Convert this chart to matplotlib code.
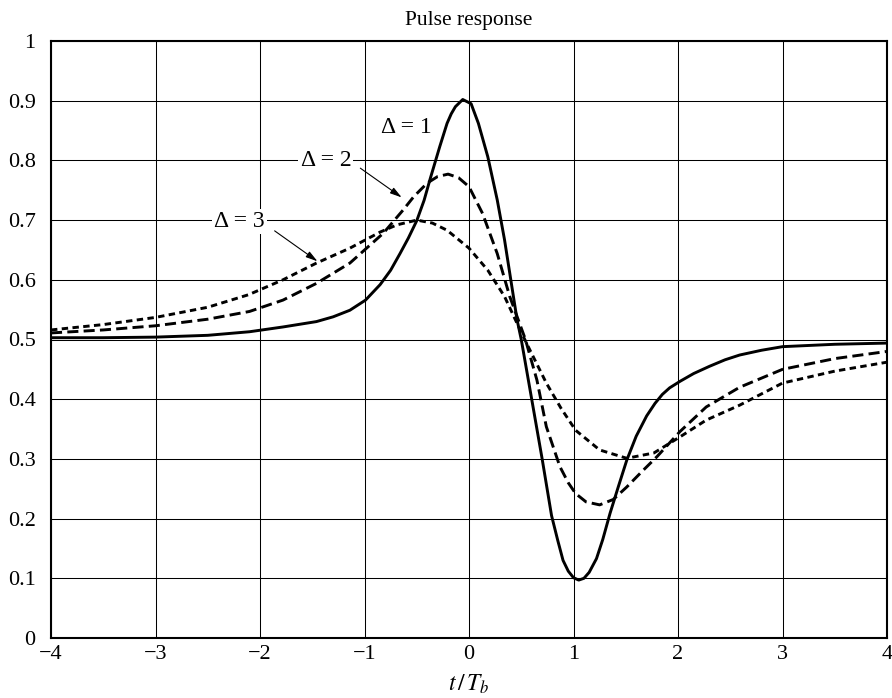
import matplotlib
matplotlib.use("Agg")
import matplotlib.pyplot as plt

plt.rcParams['font.family'] = ['Liberation Serif', 'DejaVu Serif']
plt.rcParams['mathtext.fontset'] = 'stix'

# Delta = 1 (solid)
x1 = [-4.0, -3.5, -3.0, -2.5, -2.1, -1.78, -1.46, -1.30, -1.14, -0.99, -0.85, -0.75, -0.66, -0.58, -0.50, -0.43,
      -0.37, -0.28, -0.21, -0.17, -0.13, -0.06, 0.02, 0.09, 0.18, 0.27, 0.34, 0.40, 0.46, 0.50, 0.60, 0.70,
      0.79, 0.85, 0.90, 0.95, 1.0, 1.05, 1.10, 1.15, 1.22, 1.28, 1.35, 1.43, 1.51, 1.60, 1.70, 1.78, 1.85,
      1.92, 2.02, 2.15, 2.3, 2.45, 2.59, 2.8, 3.0, 3.5, 4.0]
y1 = [0.503, 0.503, 0.504, 0.507, 0.513, 0.521, 0.530, 0.538, 0.549, 0.566, 0.592, 0.616, 0.644, 0.670, 0.699, 0.733,
      0.770, 0.823, 0.862, 0.878, 0.890, 0.902, 0.895, 0.862, 0.806, 0.734, 0.667, 0.600, 0.533, 0.500, 0.400, 0.300,
      0.205, 0.163, 0.130, 0.112, 0.101, 0.097, 0.100, 0.110, 0.133, 0.165, 0.209, 0.254, 0.298, 0.338, 0.372, 0.393, 0.408,
      0.419, 0.430, 0.443, 0.455, 0.466, 0.474, 0.482, 0.488, 0.492, 0.494]

# Delta = 2 (long dash)
x2 = [-4.0, -3.5, -3.0, -2.5, -2.1, -1.78, -1.46, -1.14, -0.98, -0.82, -0.63, -0.53, -0.40, -0.30,
      -0.20, -0.10, 0.0, 0.13, 0.27, 0.39, 0.54, 0.65, 0.74, 0.87, 0.95, 1.02, 1.12, 1.25, 1.38, 1.51,
      1.65, 1.80, 2.02, 2.27, 2.59, 3.0, 3.5, 4.0]
y2 = [0.511, 0.516, 0.523, 0.534, 0.547, 0.566, 0.594, 0.628, 0.653, 0.678, 0.717, 0.739, 0.762, 0.773,
      0.777, 0.771, 0.756, 0.711, 0.644, 0.572, 0.500, 0.432, 0.354, 0.287, 0.260, 0.242, 0.228, 0.223, 0.232, 0.253,
      0.278, 0.304, 0.346, 0.387, 0.420, 0.450, 0.468, 0.480]

# Delta = 3 (short dash)
x3 = [-4.0, -3.5, -3.0, -2.5, -2.11, -1.78, -1.46, -1.14, -0.85, -0.69, -0.50, -0.35, -0.21, 0.0,
      0.18, 0.34, 0.46, 0.55, 0.74, 0.88, 1.02, 1.25, 1.51, 1.77, 2.02, 2.27, 2.59, 3.0, 3.5, 4.0]
y3 = [0.516, 0.525, 0.537, 0.554, 0.575, 0.600, 0.628, 0.653, 0.680, 0.692, 0.700, 0.695, 0.683, 0.653,
      0.616, 0.572, 0.527, 0.494, 0.427, 0.385, 0.348, 0.315, 0.301, 0.310, 0.337, 0.365, 0.390, 0.427, 0.447, 0.462]

xticks = [-4, -3, -2, -1, 0, 1, 2, 3, 4]
yticks = [0, 0.1, 0.2, 0.3, 0.4, 0.5, 0.6, 0.7, 0.8, 0.9, 1]
yticklabels = ['0', '0.1', '0.2', '0.3', '0.4', '0.5', '0.6', '0.7', '0.8', '0.9', '1']

fig = plt.figure(figsize=(8.92, 6.98), dpi=100)
ax = fig.add_axes([51/892, 1-638/698, 836/892, 597/698])

lw = 2.1
ax.plot(x1, y1, color='black', lw=lw, solid_joinstyle='round', zorder=3)
ax.plot(x2, y2, color='black', lw=lw, dashes=(3.8, 1.8), zorder=3)
ax.plot(x3, y3, color='black', lw=lw, dashes=(2.2, 1.5), zorder=3)

ax.set_xlim(-4, 4)
ax.set_ylim(0, 1)
ax.set_xticks(xticks)
ax.set_yticks(yticks)
ax.set_yticklabels(yticklabels)
ax.grid(True, color='black', lw=0.75)
ax.set_axisbelow(True)
ax.tick_params(length=0, labelsize=16)
ax.tick_params(axis='y', pad=11)
ax.tick_params(axis='x', pad=5)
for s in ax.spines.values():
    s.set_linewidth(1.5)

ax.set_title('Pulse response', fontsize=15.5, pad=11.5)
ax.set_xlabel(r'$t\,/\,T_b$', fontsize=17, labelpad=6)

bb = dict(facecolor='white', edgecolor='none', pad=1.5)
ax.text(-0.60, 0.855, '\u0394 = 1', fontsize=17, ha='center', va='center', zorder=4)
ax.text(-1.37, 0.80, '\u0394 = 2', fontsize=17, ha='center', va='center', bbox=bb, zorder=4)
ax.text(-2.20, 0.698, '\u0394 = 3', fontsize=17, ha='center', va='center', bbox=bb, zorder=4)

ap = dict(arrowstyle='-|>,head_length=0.7,head_width=0.2', color='black', lw=0.8, shrinkA=0, shrinkB=0)
ax.annotate('', xy=(-0.644, 0.738), xytext=(-1.04, 0.787), arrowprops=ap, zorder=4)
ax.annotate('', xy=(-1.45, 0.631), xytext=(-1.86, 0.682), arrowprops=ap, zorder=4)

fig.savefig('out.png', dpi=100)
